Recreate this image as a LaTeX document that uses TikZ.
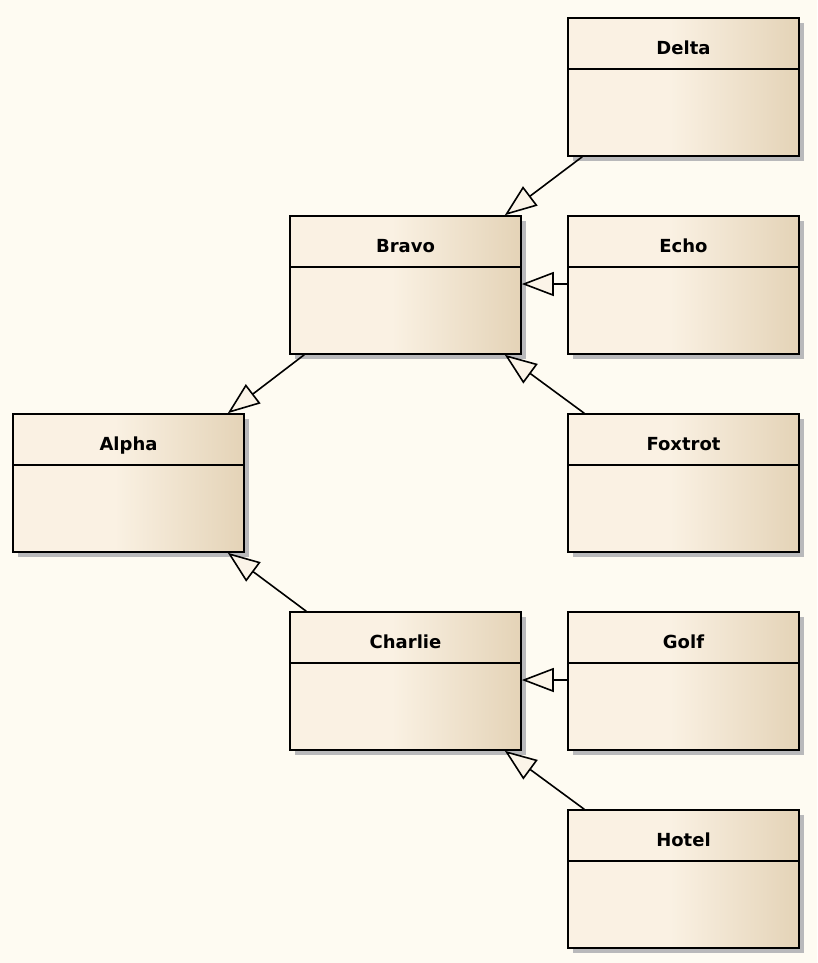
\documentclass[tikz,border=0pt]{standalone}
\usepackage{fontspec}
\setmainfont{DejaVu Sans}
\usetikzlibrary{arrows.meta,shadows}
\definecolor{bgcream}{HTML}{FEFBF2}
\definecolor{boxlight}{HTML}{FAF1E3}
\definecolor{boxdark}{HTML}{E4D3B7}
\definecolor{tipfill}{HTML}{FBF4E8}
\definecolor{shadowgray}{HTML}{B9B9BB}
\pgfdeclarehorizontalshading{classfill}{100bp}{color(0bp)=(boxlight); color(47bp)=(boxlight); color(75bp)=(boxdark); color(100bp)=(boxdark)}
\begin{document}
\begin{tikzpicture}[x=1pt, y=-1pt,
        classbox/.style={rectangle, draw=black, line width=1.6pt, minimum width=231pt, minimum height=138pt, inner sep=0pt, shading=classfill, drop shadow={shadow xshift=5pt, shadow yshift=-5pt, fill=shadowgray, opacity=1}},
        classtitle/.style={font=\fontsize{18}{21}\selectfont\bfseries, inner sep=0pt, anchor=base},
        divider/.style={draw=black, line width=1.8pt},
        inherit/.style={draw=black, line width=1.6pt, -{Triangle[length=32pt, width=24pt, fill=tipfill, line width=1.6pt]}}]
    \fill[bgcream] (0,0) rectangle (817,963);
    \useasboundingbox (0,0) rectangle (817,963);
    % classes
    \foreach \n/\x/\y/\t in {alpha/128.5/483/Alpha, bravo/405.5/285/Bravo, charlie/405.5/681/Charlie,
            delta/683.5/87/Delta, echo/683.5/285/Echo, foxtrot/683.5/483/Foxtrot,
            golf/683.5/681/Golf, hotel/683.5/879/Hotel} {
        \node[classbox] (\n) at (\x,\y) {};
        \node[classtitle] (\n-t) at ([yshift=-37pt]\n.north) {\t};
        \draw[divider] ([yshift=-52pt]\n.north west) -- ([yshift=-52pt]\n.north east);
    }
    % generalizations
    \draw[inherit] ([xshift=15pt]delta.south west) -- ([xshift=-17pt]bravo.north east);
    \draw[inherit] ([yshift=1pt]echo.west) -- ([yshift=1pt]bravo.east);
    \draw[inherit] ([xshift=17pt]foxtrot.north west) -- ([xshift=-17pt]bravo.south east);
    \draw[inherit] ([xshift=15pt]bravo.south west) -- ([xshift=-17pt]alpha.north east);
    \draw[inherit] ([xshift=17pt]charlie.north west) -- ([xshift=-17pt]alpha.south east);
    \draw[inherit] ([yshift=1pt]golf.west) -- ([yshift=1pt]charlie.east);
    \draw[inherit] ([xshift=17pt]hotel.north west) -- ([xshift=-17pt]charlie.south east);
\end{tikzpicture}
\end{document}
